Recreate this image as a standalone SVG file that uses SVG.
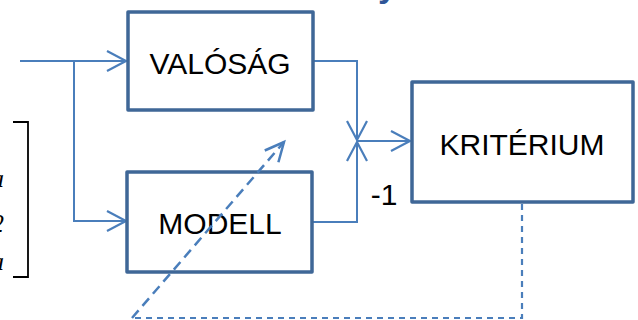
<svg xmlns="http://www.w3.org/2000/svg" width="638" height="320" viewBox="0 0 638 320">
<style>
.box{fill:#fff;stroke:#3F6797;stroke-width:3.5;stroke-linejoin:round}
.lbl{font-family:"Liberation Sans",Arial,sans-serif;font-size:30px;fill:#000;text-anchor:middle}
.conn{fill:none;stroke:#4A7EBB;stroke-width:2}
.dash{fill:none;stroke:#4A7EBB;stroke-width:2.2;stroke-dasharray:6 5}
.dashd{fill:none;stroke:#4A7EBB;stroke-width:2.5;stroke-dasharray:10 6}
.mth{font-family:"Liberation Serif","Times New Roman",serif;font-style:italic;font-size:26px;fill:#000}
</style>
<defs>
<marker id="arr" markerUnits="userSpaceOnUse" markerWidth="24" markerHeight="24" viewBox="-21 -12 24 24" refX="0" refY="0" orient="auto" overflow="visible">
<path d="M -19 -10 L 0 0 L -19 10" fill="none" stroke="#4A7EBB" stroke-width="2.2"/>
</marker>
<marker id="arrd" markerUnits="userSpaceOnUse" markerWidth="24" markerHeight="24" viewBox="-21 -12 24 24" refX="0" refY="0" orient="auto" overflow="visible">
<path d="M -19 -9 L 0 0 L -19 9" fill="none" stroke="#4A7EBB" stroke-width="2.5"/>
</marker>
</defs>
<rect width="638" height="320" fill="#fff"/>
<text x="378" y="-3" font-family="Liberation Sans,Arial,sans-serif" font-weight="bold" font-size="34" fill="#2F5597">y</text>
<g id="bracket">
<path d="M 13 122 H 28 V 277 H 13" fill="none" stroke="#000" stroke-width="1.8"/>
<text class="mth" x="-9" y="187">a</text>
<text class="mth" x="-9" y="232">2</text>
<text class="mth" x="-9" y="270">a</text>
</g>
<g id="connectors">
<path class="conn" d="M 20 61 H 126" marker-end="url(#arr)"/>
<path class="conn" d="M 74 61 V 221 H 126" marker-end="url(#arr)"/>
<path class="conn" d="M 313 61 H 357 V 140" marker-end="url(#arr)"/>
<path class="conn" d="M 312 222 H 357 V 142" marker-end="url(#arr)"/>
<path class="conn" d="M 357 141 H 410" marker-end="url(#arr)"/>
</g>
<g id="valosag">
<rect class="box" x="128" y="12" width="185" height="98"/>
<text class="lbl" x="220" y="74">VALÓSÁG</text>
</g>
<g id="modell">
<rect class="box" x="127" y="172" width="185" height="100"/>
<text class="lbl" x="220" y="234">MODELL</text>
</g>
<g id="kriterium">
<rect class="box" x="412" y="82" width="221" height="120"/>
<text class="lbl" x="522" y="155">KRITÉRIUM</text>
</g>
<text class="lbl" x="384" y="205">-1</text>
<g id="feedback">
<path class="dash" d="M 522 204 V 318 H 132"/>
<path class="dashd" d="M 132 318 L 284 142" marker-end="url(#arrd)"/>
</g>
</svg>
